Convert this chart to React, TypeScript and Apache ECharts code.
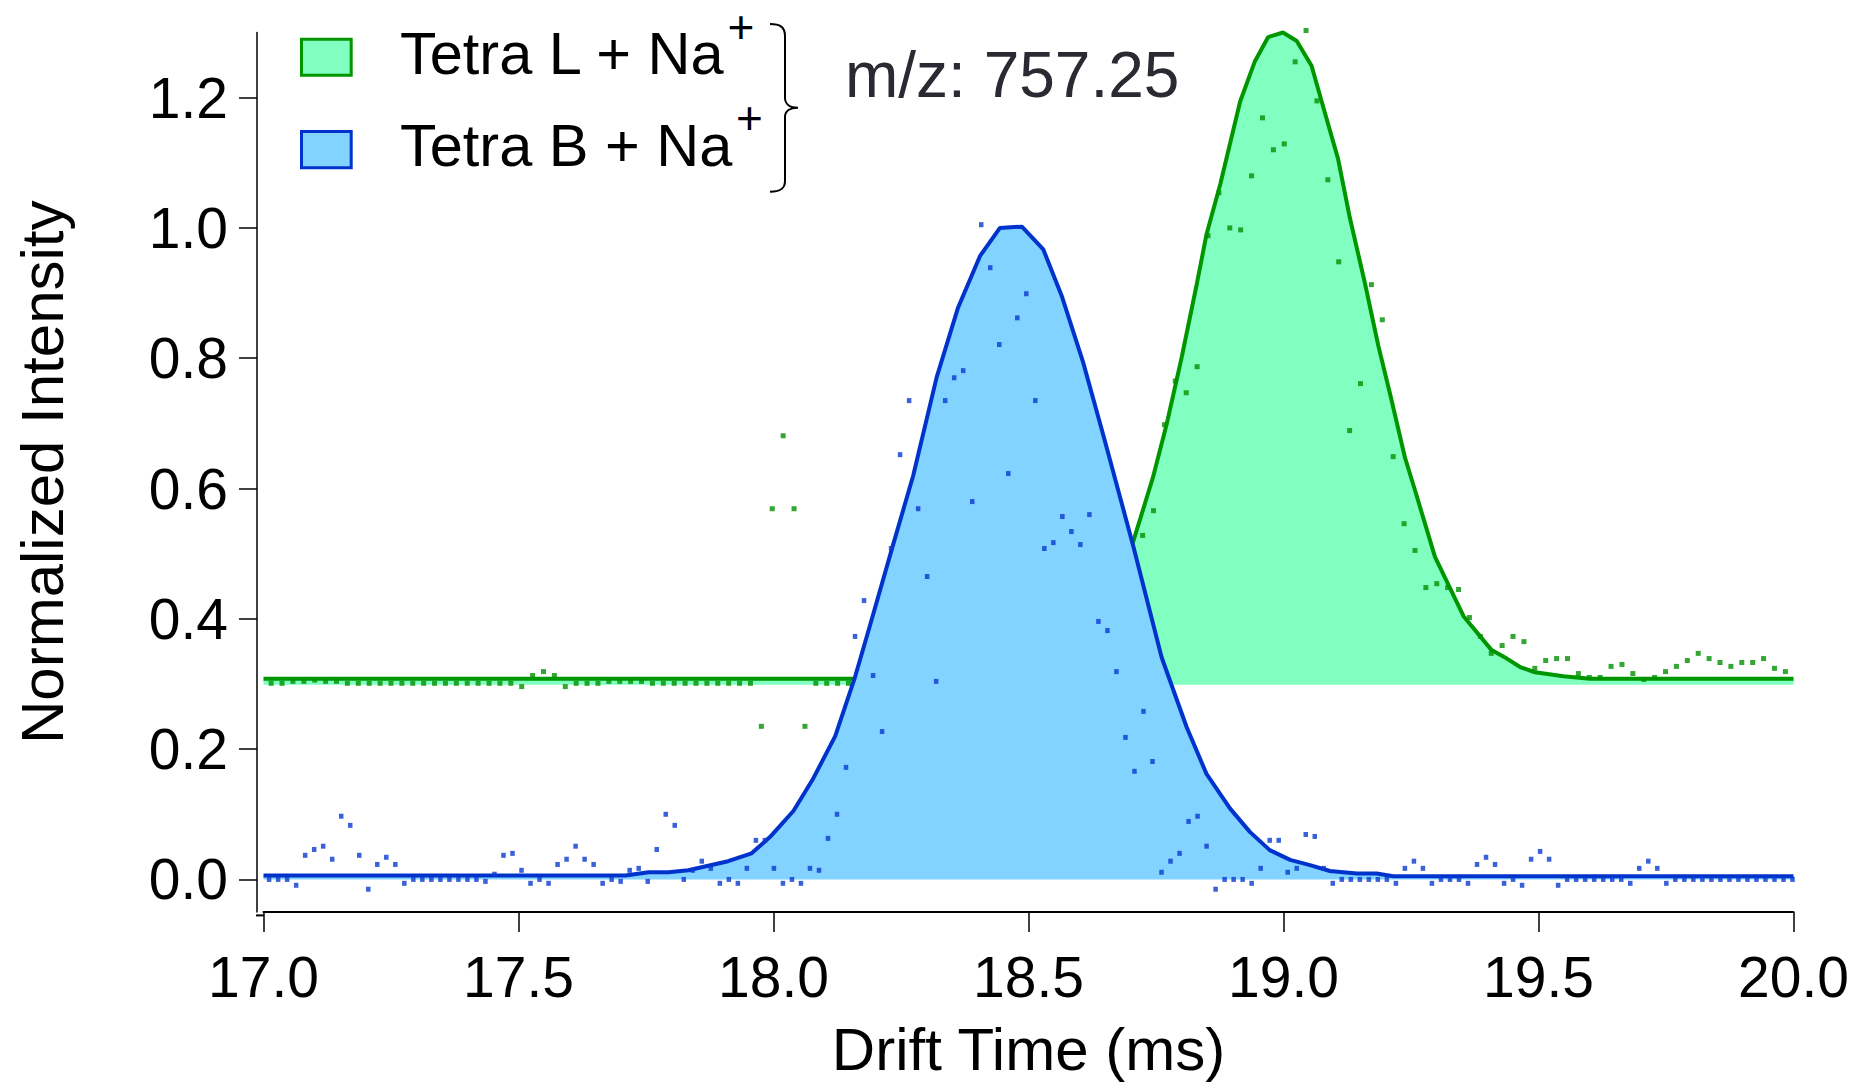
import React, { useEffect, useRef } from "react";
import * as echarts from "echarts";

// ---------- data ----------
const X_TICKS = [17.0, 17.5, 18.0, 18.5, 19.0, 19.5, 20.0];
const Y_TICKS = [0, 0.2, 0.4, 0.6, 0.8, 1.0, 1.2];

const X_TITLE = "Drift Time (ms)";
const Y_TITLE = "Normalized Intensity";
const MZ_LABEL = "m/z: 757.25";
const LEGEND_LABELS = ["Tetra L + Na", "Tetra B + Na"];
const LEGEND_SUPER = "+";

// fitted curves (drift time, intensity)
const GREEN_FIT_T = [17.0, 18.3, 18.4, 18.5, 18.56, 18.62, 18.66, 18.7, 18.744, 18.771, 18.8, 18.83, 18.849, 18.876, 18.915, 18.944, 18.97, 18.999, 19.026, 19.055, 19.08, 19.107, 19.13, 19.16, 19.186, 19.209, 19.238, 19.258, 19.297, 19.353, 19.408, 19.438, 19.464, 19.493, 19.549, 19.601, 20.0];
const GREEN_FIT_Y = [0.308, 0.308, 0.312, 0.325, 0.345, 0.39, 0.43, 0.505, 0.617, 0.699, 0.8, 0.914, 0.99, 1.067, 1.194, 1.256, 1.293, 1.3, 1.287, 1.249, 1.18, 1.106, 1.016, 0.914, 0.819, 0.745, 0.648, 0.597, 0.495, 0.404, 0.352, 0.339, 0.326, 0.318, 0.312, 0.308, 0.308];

const BLUE_FIT_T = [17.0, 17.71, 17.755, 17.794, 17.833, 17.911, 17.957, 17.993, 18.039, 18.078, 18.121, 18.16, 18.19, 18.235, 18.274, 18.32, 18.362, 18.405, 18.444, 18.487, 18.529, 18.565, 18.607, 18.647, 18.706, 18.761, 18.81, 18.849, 18.895, 18.934, 18.973, 19.013, 19.052, 19.091, 19.144, 19.183, 19.215, 20.0];
const BLUE_FIT_Y = [0.006, 0.006, 0.011, 0.011, 0.014, 0.028, 0.04, 0.065, 0.105, 0.155, 0.22, 0.311, 0.392, 0.515, 0.62, 0.771, 0.878, 0.957, 1.0, 1.002, 0.967, 0.896, 0.794, 0.681, 0.51, 0.341, 0.234, 0.162, 0.109, 0.073, 0.045, 0.03, 0.022, 0.013, 0.009, 0.009, 0.005, 0.005];

// raw data points, sampled on a uniform drift-time grid
const GREEN_DOT_START = 17.015;
const GREEN_DOT_STEP = 0.02136;
const GREEN_DOTS = [
  0.301, 0.301, 0.304, 0.304, 0.306, 0.304, 0.304, 0.301, 0.301, 0.301,
  0.301, 0.301, 0.301, 0.301, 0.301, 0.301, 0.301, 0.301, 0.301, 0.301,
  0.301, 0.301, 0.301, 0.296, 0.313, 0.319, 0.313, 0.296, 0.301, 0.301,
  0.301, 0.304, 0.304, 0.304, 0.304, 0.301, 0.301, 0.301, 0.301, 0.301,
  0.301, 0.301, 0.301, 0.301, 0.301, 0.235, 0.569, 0.681, 0.569, 0.235,
  0.301, 0.301, 0.301, 0.301, 0.3, 0.3, 0.3, 0.31, 0.3, 0.3,
  0.31, 0.31, 0.31, 0.32, 0.31, 0.32, 0.33, 0.32, 0.33, 0.34,
  0.33, 0.35, 0.36, 0.37, 0.38, 0.4, 0.42, 0.44, 0.47, 0.49,
  0.528, 0.566, 0.698, 0.765, 0.747, 0.787, 0.988, 1.054, 1.0, 0.997,
  1.08, 1.169, 1.12, 1.129, 1.255, 1.303, 1.195, 1.074, 0.948, 0.689,
  0.761, 0.913, 0.859, 0.649, 0.546, 0.505, 0.448, 0.454, 0.448, 0.445,
  0.402, 0.373, 0.347, 0.359, 0.373, 0.365, 0.324, 0.336, 0.339, 0.339,
  0.316, 0.31, 0.31, 0.327, 0.33, 0.316, 0.307, 0.31, 0.319, 0.327,
  0.336, 0.347, 0.339, 0.333, 0.327, 0.333, 0.333, 0.339, 0.324, 0.319,
];

const BLUE_DOT_START = 17.011;
const BLUE_DOT_STEP = 0.017675;
const BLUE_DOTS = [
  0, 0, 0, -0.009, 0.037, 0.046, 0.051, 0.031, 0.097, 0.083,
  0.037, -0.015, 0.023, 0.034, 0.023, -0.006, 0, 0, 0, 0,
  0, 0, 0, 0, -0.003, 0.008, 0.037, 0.04, 0.014, -0.006,
  0, -0.006, 0.023, 0.031, 0.051, 0.031, 0.023, -0.006, 0, -0.003,
  0.014, 0.017, -0.003, 0.046, 0.1, 0.083, 0, 0.014, 0.028, 0.017,
  -0.006, 0, -0.006, 0.017, 0.06, 0.06, 0.017, -0.006, 0, -0.006,
  0.017, 0.014, 0.063, 0.1, 0.172, 0.373, 0.428, 0.313, 0.227, 0.508,
  0.652, 0.735, 0.569, 0.465, 0.304, 0.735, 0.77, 0.781, 0.58, 1.005,
  0.939, 0.821, 0.623, 0.862, 0.899, 0.735, 0.508, 0.517, 0.557, 0.534,
  0.514, 0.56, 0.396, 0.382, 0.319, 0.218, 0.166, 0.258, 0.181, 0.011,
  0.028, 0.04, 0.089, 0.097, 0.051, -0.015, 0, 0, 0, -0.006,
  0.017, 0.06, 0.06, 0.011, 0.017, 0.069, 0.066, 0.017, -0.006, 0,
  0, 0, 0, 0, 0, -0.006, 0.017, 0.028, 0.017, -0.006,
  0, 0, 0, -0.006, 0.023, 0.034, 0.023, -0.006, 0, -0.009,
  0.031, 0.043, 0.031, -0.009, 0, 0, 0, 0, 0, 0,
  0, -0.006, 0.017, 0.028, 0.017, -0.006, 0, 0, 0, 0,
  0, 0, 0, 0, 0, 0, 0, 0, 0, 0,
];

// ---------- styles ----------
const FONT = "'Liberation Sans', Arial, Helvetica, sans-serif";
const GREEN_FILL = "#80FFC0";
const GREEN_LINE = "#009600";
const GREEN_DOT = "#009000";
const BLUE_FILL = "#82D3FF";
const BLUE_LINE = "#0033CC";
const BLUE_DOT = "#0a3ad0";

const BRACKET_D =
  "M770,24 C780,24 785,27 785,36 L785,98 C785,104 790,107.7 798,107.7 C790,107.7 785,111 785,117 L785,181 C785,189 780,191.7 770,191.7";

let bracketRegistered = false;

export default function App() {
  const ref = useRef<HTMLDivElement>(null);

  useEffect(() => {
    if (!ref.current) return;
    if (!bracketRegistered) {
      echarts.graphic.registerShape("bracket", echarts.graphic.extendPath(BRACKET_D, {}));
      bracketRegistered = true;
    }
    const chart = echarts.init(ref.current, null, { renderer: "svg" });

    const greenFit = GREEN_FIT_T.map((t, i) => [t, GREEN_FIT_Y[i]]);
    const blueFit = BLUE_FIT_T.map((t, i) => [t, BLUE_FIT_Y[i]]);
    const greenDots = GREEN_DOTS.map((v, i) => [GREEN_DOT_START + i * GREEN_DOT_STEP, v]);
    const blueDots = BLUE_DOTS.map((v, i) => [BLUE_DOT_START + i * BLUE_DOT_STEP, v]);

    const option: any = {
      animation: false,
      backgroundColor: "#ffffff",
      grid: { left: 263.5, right: 67.5, top: 32.5, bottom: 168.6, containLabel: false },
      xAxis: {
        type: "value",
        min: 17,
        max: 20,
        interval: 0.5,
        axisLine: { show: true, onZero: false, lineStyle: { color: "#000", width: 2 } },
        axisTick: { show: true, inside: false, length: 20, customValues: X_TICKS, lineStyle: { color: "#000", width: 1.5 } },
        axisLabel: {
          customValues: X_TICKS,
          margin: 36,
          fontSize: 57,
          color: "#000",
          fontFamily: FONT,
          formatter: (v: number) => v.toFixed(1),
        },
        splitLine: { show: false },
        name: X_TITLE,
        nameLocation: "middle",
        nameGap: 107,
        nameTextStyle: { fontSize: 60, color: "#000", fontFamily: FONT },
      },
      yAxis: {
        type: "value",
        min: -0.05,
        max: 1.3,
        offset: 6.5,
        axisLine: { show: true, onZero: false, lineStyle: { color: "#000", width: 1.5 } },
        axisTick: { show: true, inside: false, length: 18, customValues: Y_TICKS, lineStyle: { color: "#000", width: 1.5 } },
        axisLabel: {
          customValues: Y_TICKS,
          margin: 29,
          fontSize: 57,
          color: "#000",
          fontFamily: FONT,
          formatter: (v: number) => v.toFixed(1),
        },
        splitLine: { show: false },
        name: Y_TITLE,
        nameLocation: "middle",
        nameGap: 185,
        nameRotate: 90,
        nameTextStyle: { fontSize: 60, color: "#000", fontFamily: FONT },
      },
      series: [
        {
          type: "line",
          name: "Tetra L fit",
          data: greenFit,
          showSymbol: false,
          symbol: "none",
          smooth: false,
          clip: false,
          lineStyle: { color: GREEN_LINE, width: 4 },
          itemStyle: { color: GREEN_LINE },
          areaStyle: { color: GREEN_FILL, opacity: 1, origin: 0.299 },
          z: 2,
          silent: true,
        },
        {
          type: "scatter",
          name: "Tetra L data",
          data: greenDots,
          symbol: "rect",
          symbolSize: [5, 5],
          clip: false,
          itemStyle: { color: GREEN_DOT },
          z: 3,
          silent: true,
        },
        {
          type: "line",
          name: "Tetra B fit",
          data: blueFit,
          showSymbol: false,
          symbol: "none",
          smooth: false,
          clip: false,
          lineStyle: { color: BLUE_LINE, width: 4 },
          itemStyle: { color: BLUE_LINE },
          areaStyle: { color: BLUE_FILL, opacity: 1, origin: 0 },
          z: 4,
          silent: true,
        },
        {
          type: "scatter",
          name: "Tetra B data",
          data: blueDots,
          symbol: "rect",
          symbolSize: [4.5, 5],
          clip: false,
          itemStyle: { color: BLUE_DOT },
          z: 5,
          silent: true,
        },
      ],
      graphic: [
        { type: "line", shape: { x1: 256, y1: 915.4, x2: 264, y2: 915.4 }, style: { stroke: "#000", lineWidth: 2 } },
        {
          type: "rect",
          shape: { x: 301.5, y: 39.2, width: 49.7, height: 36 },
          style: { fill: GREEN_FILL, stroke: GREEN_LINE, lineWidth: 3 },
        },
        {
          type: "rect",
          shape: { x: 301.5, y: 131.5, width: 49.7, height: 36.3 },
          style: { fill: BLUE_FILL, stroke: BLUE_LINE, lineWidth: 3 },
        },
        {
          type: "text",
          x: 400,
          y: 53.3,
          style: { text: LEGEND_LABELS[0], fontSize: 59.5, fontFamily: FONT, fill: "#000", align: "left", verticalAlign: "middle" },
        },
        {
          type: "text",
          x: 741,
          y: 27,
          style: { text: LEGEND_SUPER, fontSize: 46, fontFamily: FONT, fill: "#000", align: "center", verticalAlign: "middle" },
        },
        {
          type: "text",
          x: 400,
          y: 145,
          style: { text: LEGEND_LABELS[1], fontSize: 59.5, fontFamily: FONT, fill: "#000", align: "left", verticalAlign: "middle" },
        },
        {
          type: "text",
          x: 749.5,
          y: 118,
          style: { text: LEGEND_SUPER, fontSize: 46, fontFamily: FONT, fill: "#000", align: "center", verticalAlign: "middle" },
        },
        {
          type: "bracket",
          x: 0,
          y: 0,
          style: { stroke: "#000", fill: null, lineWidth: 2 },
        },
        {
          type: "text",
          x: 845,
          y: 75,
          style: { text: MZ_LABEL, fontSize: 64, fontFamily: FONT, fill: "#2a2a33", align: "left", verticalAlign: "middle" },
        },
      ],
    };

    chart.setOption(option);
    return () => {
      chart.dispose();
    };
  }, []);

  return (
    <div
      ref={ref}
      style={{ position: "fixed", left: 0, top: 0, width: 1861, height: 1084, background: "#fff" }}
    />
  );
}
